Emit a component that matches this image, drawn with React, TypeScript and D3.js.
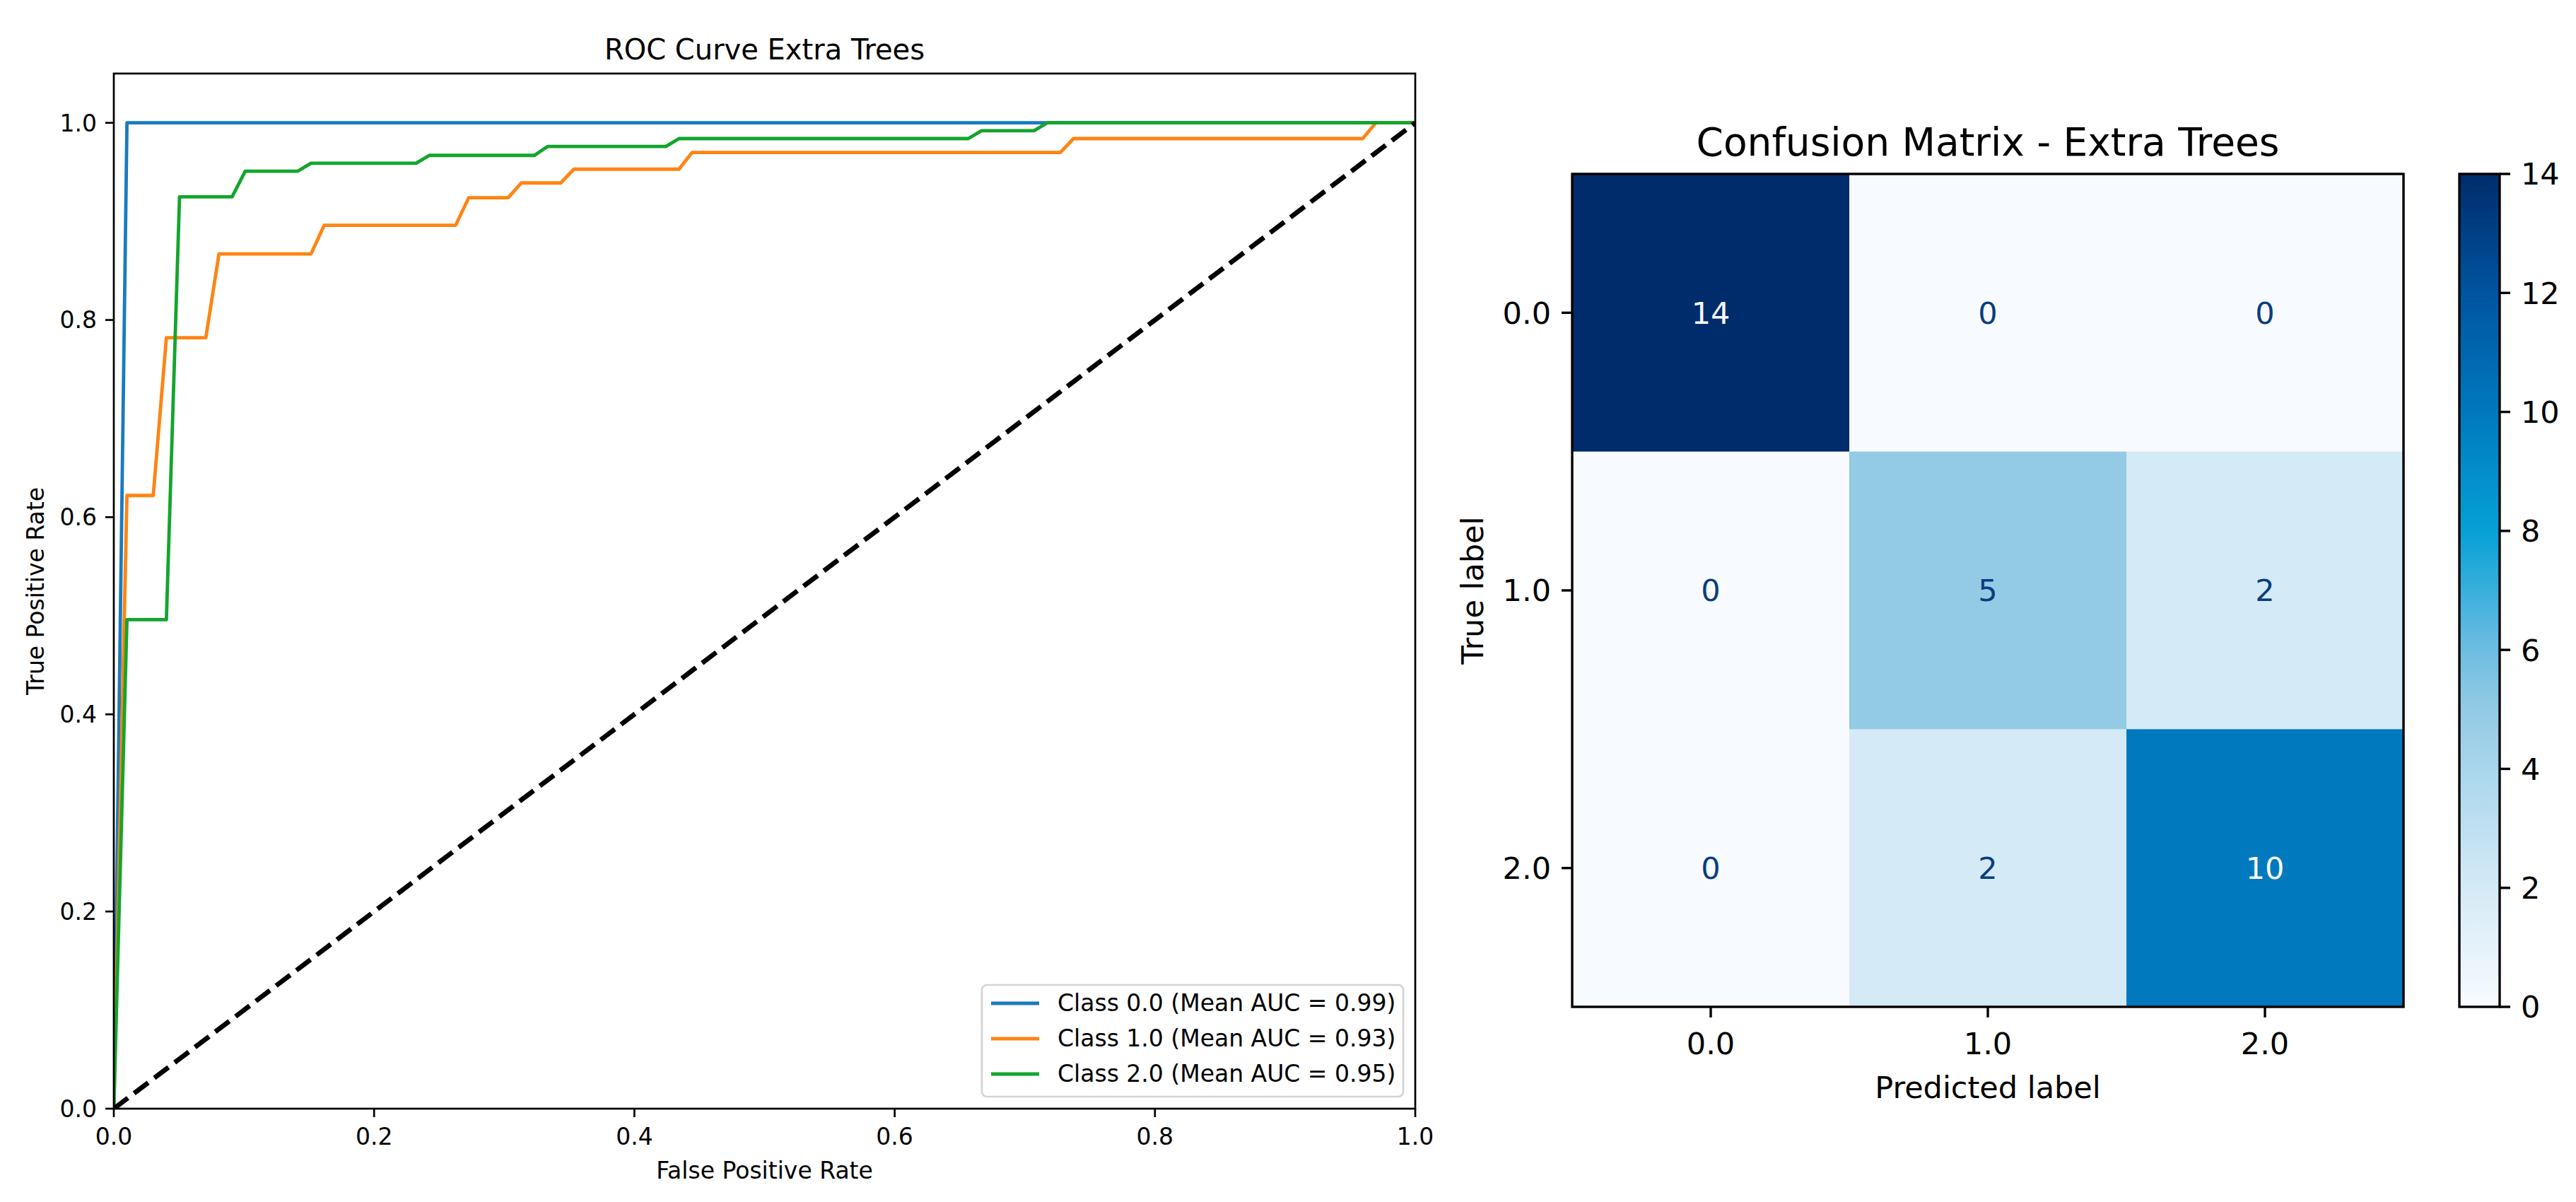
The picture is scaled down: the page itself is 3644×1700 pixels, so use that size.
import React from 'react';
import * as d3 from 'd3';

// ---------------- data ----------------
const CLASS_LABELS = ['0.0', '1.0', '2.0'];
const MEAN_AUC = [0.99, 0.93, 0.95];

const FPR_CLASS_0 = [0, 0.0101, 1];
const TPR_CLASS_0 = [0, 1, 1];

const FPR_CLASS_1 = [0, 0.0101, 0.0303, 0.0404, 0.0707, 0.0808, 0.1515, 0.1616, 0.2626, 0.2727, 0.303, 0.3131, 0.3434, 0.3535, 0.4343, 0.4444, 0.7273, 0.7374, 0.9596, 0.9697, 1];
const TPR_CLASS_1 = [0, 0.622, 0.622, 0.782, 0.782, 0.867, 0.867, 0.896, 0.896, 0.924, 0.924, 0.939, 0.939, 0.953, 0.953, 0.97, 0.97, 0.984, 0.984, 1, 1];

const FPR_CLASS_2 = [0, 0.0101, 0.0404, 0.0505, 0.0909, 0.101, 0.1414, 0.1515, 0.2323, 0.2424, 0.3232, 0.3333, 0.4242, 0.4343, 0.6566, 0.6667, 0.7071, 0.7172, 1];
const TPR_CLASS_2 = [0, 0.496, 0.496, 0.925, 0.925, 0.951, 0.951, 0.959, 0.959, 0.967, 0.967, 0.976, 0.976, 0.984, 0.984, 0.992, 0.992, 1, 1];

const CHANCE_FPR = [0, 1];
const CHANCE_TPR = [0, 1];

const ROC_TICKS = [0, 0.2, 0.4, 0.6, 0.8, 1.0];

const CONFUSION_ROW_0 = [14, 0, 0];
const CONFUSION_ROW_1 = [0, 5, 2];
const CONFUSION_ROW_2 = [0, 2, 10];
const CONFUSION = [CONFUSION_ROW_0, CONFUSION_ROW_1, CONFUSION_ROW_2];

const COLORBAR_TICKS = [0, 2, 4, 6, 8, 10, 12, 14];

// ---------------- styles ----------------
const FONT = "'DejaVu Sans', Verdana, sans-serif";
const LINE_COLORS = ['#1a7bbf', '#ff8412', '#13a52d'];
const BLUES_POS = [0, 0.143, 0.286, 0.357, 0.43, 0.571, 0.714, 0.857, 1];
const BLUES_COL = ['#f7fbff', '#d4eaf6', '#a9d6ec', '#93cae4', '#6dbde2', '#05a1d6', '#0079be', '#0054a0', '#002c6b'];

export default function App() {
  const W = 3644;
  const H = 1700;

  // ROC axes
  const L = { left: 161, right: 2002, top: 104, bottom: 1568 };
  const fsL = 33;
  const x = d3.scaleLinear().domain([0, 1]).range([L.left, L.right]);
  const y = d3.scaleLinear().domain([0, 1.05]).range([L.bottom, L.top]);
  const line = d3
    .line<[number, number]>()
    .x((d) => x(d[0]))
    .y((d) => y(d[1]));

  const curves = [
    d3.zip(FPR_CLASS_0, TPR_CLASS_0) as [number, number][],
    d3.zip(FPR_CLASS_1, TPR_CLASS_1) as [number, number][],
    d3.zip(FPR_CLASS_2, TPR_CLASS_2) as [number, number][],
  ];
  const chance = d3.zip(CHANCE_FPR, CHANCE_TPR) as [number, number][];

  // Confusion matrix
  const M = { left: 2224, right: 3400, top: 246, bottom: 1424 };
  const fsR = 43;
  const xb = d3.scaleBand<string>().domain(CLASS_LABELS).range([M.left, M.right]);
  const yb = d3.scaleBand<string>().domain(CLASS_LABELS).range([M.top, M.bottom]);
  const vmax = d3.max(CONFUSION.flat()) as number;
  const vmin = d3.min(CONFUSION.flat()) as number;
  const colorScale = d3
    .scaleLinear<string>()
    .domain(BLUES_POS.map((p) => vmin + p * (vmax - vmin)))
    .range(BLUES_COL)
    .interpolate(d3.interpolateRgb);
  const thresh = (vmax + vmin) / 2;

  const CB = { left: 3479, right: 3536, top: 246, bottom: 1424 };
  const cbY = d3.scaleLinear().domain([0, 14]).range([CB.bottom, CB.top]);
  const gradStops = d3.range(0, 1.00001, 0.02);

  const legendRows = [1419, 1469, 1519];

  return (
    <svg
      width={W}
      height={H}
      viewBox={`0 0 ${W} ${H}`}
      style={{ position: 'absolute', left: 0, top: 0, background: '#fff' }}
      fontFamily={FONT}
    >
      <rect x={0} y={0} width={W} height={H} fill="#fff" />
      <defs>
        <clipPath id="rocClip">
          <rect x={L.left} y={L.top} width={L.right - L.left} height={L.bottom - L.top} />
        </clipPath>
        <linearGradient id="cbGrad" x1="0" y1="1" x2="0" y2="0">
          {gradStops.map((t) => (
            <stop key={t} offset={t} stopColor={colorScale(vmin + t * (vmax - vmin))} />
          ))}
        </linearGradient>
      </defs>

      {/* ================= ROC ================= */}
      <text x={(L.left + L.right) / 2} y={84} textAnchor="middle" fontSize={40} fill="#000">
        ROC Curve Extra Trees
      </text>

      <g clipPath="url(#rocClip)">
        {curves.map((c, i) => (
          <path key={i} d={line(c) as string} fill="none" stroke={LINE_COLORS[i]} strokeWidth={4.8} strokeLinejoin="round" />
        ))}
        <path d={line(chance) as string} fill="none" stroke="#000" strokeWidth={6.8} strokeDasharray="25 11" />
      </g>

      <rect x={L.left} y={L.top} width={L.right - L.left} height={L.bottom - L.top} fill="none" stroke="#000" strokeWidth={2.7} />

      {ROC_TICKS.map((t) => (
        <g key={'x' + t}>
          <line x1={x(t)} x2={x(t)} y1={L.bottom} y2={L.bottom + 12} stroke="#000" strokeWidth={2.7} />
          <text x={x(t)} y={1619} textAnchor="middle" fontSize={fsL} fill="#000">
            {t.toFixed(1)}
          </text>
        </g>
      ))}
      {ROC_TICKS.map((t) => (
        <g key={'y' + t}>
          <line x1={L.left - 12} x2={L.left} y1={y(t)} y2={y(t)} stroke="#000" strokeWidth={2.7} />
          <text x={137} y={y(t) + fsL * 0.36} textAnchor="end" fontSize={fsL} fill="#000">
            {t.toFixed(1)}
          </text>
        </g>
      ))}
      <text x={(L.left + L.right) / 2} y={1667} textAnchor="middle" fontSize={fsL} fill="#000">
        False Positive Rate
      </text>
      <text
        transform={`translate(62, ${(L.top + L.bottom) / 2}) rotate(-90)`}
        textAnchor="middle"
        fontSize={fsL}
        fill="#000"
      >
        True Positive Rate
      </text>

      {/* legend */}
      <rect x={1389} y={1393} width={1985 - 1389} height={1551 - 1393} rx={7} ry={7} fill="#fff" fillOpacity={0.8} stroke="#d4d4d4" strokeWidth={2.7} />
      {CLASS_LABELS.map((c, i) => (
        <g key={'lg' + c}>
          <line x1={1402} x2={1470} y1={legendRows[i]} y2={legendRows[i]} stroke={LINE_COLORS[i]} strokeWidth={4.8} />
          <text x={1496} y={legendRows[i] + 11} fontSize={fsL} fill="#000">
            {`Class ${c} (Mean AUC = ${MEAN_AUC[i].toFixed(2)})`}
          </text>
        </g>
      ))}

      {/* ================= Confusion matrix ================= */}
      <text x={(M.left + M.right) / 2} y={220} textAnchor="middle" fontSize={55} fill="#000">
        Confusion Matrix - Extra Trees
      </text>

      {CONFUSION.map((row, i) =>
        row.map((v, j) => (
          <rect
            key={`c${i}${j}`}
            x={xb(CLASS_LABELS[j]) as number}
            y={yb(CLASS_LABELS[i]) as number}
            width={xb.bandwidth() + 0.6}
            height={yb.bandwidth() + 0.6}
            fill={colorScale(v)}
          />
        ))
      )}
      {CONFUSION.map((row, i) =>
        row.map((v, j) => (
          <text
            key={`t${i}${j}`}
            x={(xb(CLASS_LABELS[j]) as number) + xb.bandwidth() / 2}
            y={(yb(CLASS_LABELS[i]) as number) + yb.bandwidth() / 2 + fsR * 0.36}
            textAnchor="middle"
            fontSize={fsR}
            fill={v > thresh ? '#f7fbff' : '#0a3d7e'}
          >
            {v}
          </text>
        ))
      )}
      <rect x={M.left} y={M.top} width={M.right - M.left} height={M.bottom - M.top} fill="none" stroke="#000" strokeWidth={3.4} />

      {CLASS_LABELS.map((c) => {
        const cx = (xb(c) as number) + xb.bandwidth() / 2;
        return (
          <g key={'mx' + c}>
            <line x1={cx} x2={cx} y1={M.bottom} y2={M.bottom + 15} stroke="#000" strokeWidth={3.4} />
            <text x={cx} y={1491} textAnchor="middle" fontSize={fsR} fill="#000">
              {c}
            </text>
          </g>
        );
      })}
      {CLASS_LABELS.map((c) => {
        const cy = (yb(c) as number) + yb.bandwidth() / 2;
        return (
          <g key={'my' + c}>
            <line x1={M.left - 15} x2={M.left} y1={cy} y2={cy} stroke="#000" strokeWidth={3.4} />
            <text x={2194} y={cy + fsR * 0.36} textAnchor="end" fontSize={fsR} fill="#000">
              {c}
            </text>
          </g>
        );
      })}
      <text x={(M.left + M.right) / 2} y={1553} textAnchor="middle" fontSize={fsR} fill="#000">
        Predicted label
      </text>
      <text
        transform={`translate(2098, ${(M.top + M.bottom) / 2}) rotate(-90)`}
        textAnchor="middle"
        fontSize={fsR}
        fill="#000"
      >
        True label
      </text>

      {/* colorbar */}
      <rect x={CB.left} y={CB.top} width={CB.right - CB.left} height={CB.bottom - CB.top} fill="url(#cbGrad)" />
      <rect x={CB.left} y={CB.top} width={CB.right - CB.left} height={CB.bottom - CB.top} fill="none" stroke="#000" strokeWidth={3.4} />
      {COLORBAR_TICKS.map((t) => (
        <g key={'cb' + t}>
          <line x1={CB.right} x2={CB.right + 15} y1={cbY(t)} y2={cbY(t)} stroke="#000" strokeWidth={3.4} />
          <text x={CB.right + 30} y={cbY(t) + fsR * 0.36} fontSize={fsR} fill="#000">
            {t}
          </text>
        </g>
      ))}
    </svg>
  );
}
